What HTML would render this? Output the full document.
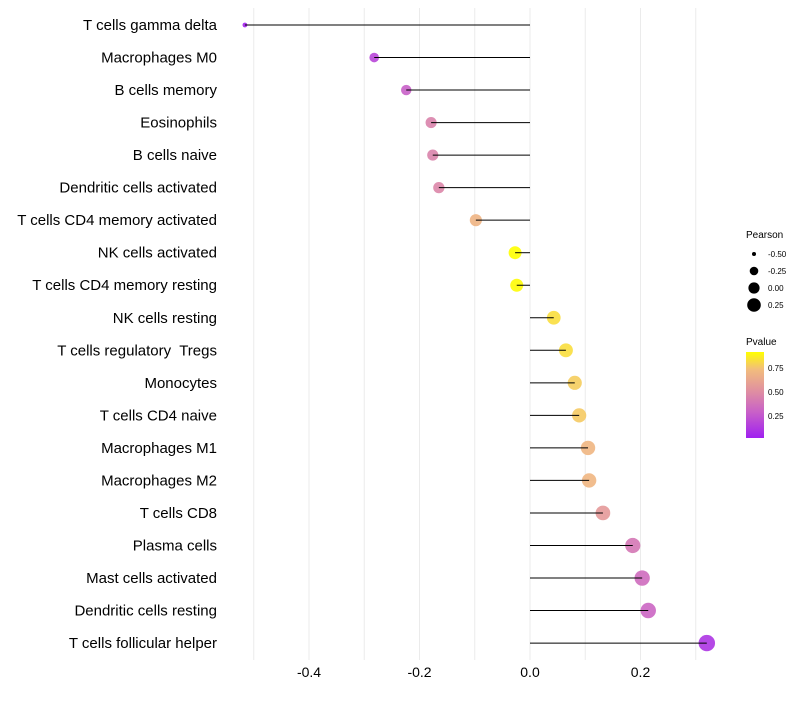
<!DOCTYPE html>
<html><head><meta charset="utf-8"><style>
body{margin:0;background:#fff;font-family:"Liberation Sans",sans-serif}
</style></head><body>
<svg id="chart" width="800" height="700" xmlns="http://www.w3.org/2000/svg" font-family="Liberation Sans, sans-serif">
<g id="grid"></g>
<g id="marks"></g>
<g id="ylab"></g>
<g id="xlab"></g>
<g>
<text x="746" y="238" font-size="10">Pearson</text>
<circle cx="754" cy="254" r="2" fill="#000"/><text x="768" y="257" font-size="8">-0.50</text>
<circle cx="754" cy="271" r="4.3" fill="#000"/><text x="768" y="274" font-size="8">-0.25</text>
<circle cx="754" cy="288" r="5.6" fill="#000"/><text x="768" y="291" font-size="8">0.00</text>
<circle cx="754" cy="305" r="6.8" fill="#000"/><text x="768" y="308" font-size="8">0.25</text>
</g>
<g>
<defs><linearGradient id="cb" x1="0" y1="1" x2="0" y2="0">
<stop offset="0" stop-color="#a020f0"/><stop offset="0.3" stop-color="#c860c8"/><stop offset="0.55" stop-color="#e090a0"/><stop offset="0.8" stop-color="#f2bd7c"/><stop offset="1" stop-color="#ffff00"/></linearGradient></defs>
<text x="746" y="345" font-size="10">Pvalue</text>
<rect x="746" y="352" width="18" height="86" fill="url(#cb)"/>
<text x="768" y="371" font-size="8">0.75</text>
<text x="768" y="395" font-size="8">0.50</text>
<text x="768" y="419" font-size="8">0.25</text>
</g>
</svg>
<script>
const categories=["T cells gamma delta","Macrophages M0","B cells memory","Eosinophils","B cells naive","Dendritic cells activated","T cells CD4 memory activated","NK cells activated","T cells CD4 memory resting","NK cells resting","T cells regulatory  Tregs","Monocytes","T cells CD4 naive","Macrophages M1","Macrophages M2","T cells CD8","Plasma cells","Mast cells activated","Dendritic cells resting","T cells follicular helper"];
const pearson=[-0.516,-0.282,-0.224,-0.179,-0.176,-0.165,-0.098,-0.027,-0.024,0.043,0.065,0.081,0.089,0.105,0.107,0.132,0.186,0.203,0.214,0.320];
const pvalues=[0.02,0.18,0.3,0.48,0.48,0.5,0.75,1.0,0.99,0.9,0.9,0.85,0.84,0.76,0.76,0.6,0.42,0.36,0.33,0.1];
const xTicks=[-0.4,-0.2,0.0,0.2];
const xGrid=[-0.5,-0.4,-0.3,-0.2,-0.1,0,0.1,0.2,0.3];
const NS="http://www.w3.org/2000/svg";
const X=v=>530+v*552.5;
const Y=i=>25+i*32.53;
const R=v=>Math.sqrt(Math.max(4,44+74*v));
function lerp(a,b,t){return a.map((x,k)=>Math.round(x+(b[k]-x)*t));}
function col(p){const s=[[0,[160,32,240]],[0.3,[200,96,200]],[0.55,[224,144,160]],[0.8,[242,189,124]],[1,[255,255,0]]];
for(let k=0;k<s.length-1;k++){if(p<=s[k+1][0]){const t=(p-s[k][0])/(s[k+1][0]-s[k][0]);const c=lerp(s[k][1],s[k+1][1],t);return `rgb(${c})`;}}return "rgb(255,255,0)";}
function mk(t,a,parent){const e=document.createElementNS(NS,t);for(const k in a)e.setAttribute(k,a[k]);parent.appendChild(e);return e;}
const grid=document.getElementById('grid'),marks=document.getElementById('marks'),ylab=document.getElementById('ylab'),xlab=document.getElementById('xlab');
xGrid.forEach(v=>{const l=mk('line',{x1:X(v),x2:X(v),y1:8,y2:660,stroke:'#ebebeb','stroke-width':1},grid);

});
xTicks.forEach(v=>{const t=mk('text',{x:X(v),y:677,'font-size':14,'text-anchor':'middle',fill:'#000'},xlab);t.textContent=v.toFixed(1);

});
categories.forEach((c,i)=>{
const y=Y(i);
const t=mk('text',{x:217,y:y+5,'font-size':15,'text-anchor':'end',fill:'#000'},ylab);t.textContent=c;


t.setAttribute('xml:space','preserve');
t.style.whiteSpace='pre';
const ci=mk('circle',{cx:X(pearson[i]),cy:y,r:R(pearson[i]),fill:col(pvalues[i]),'fill-opacity':0.9},marks);


const l=mk('line',{x1:X(0),x2:X(pearson[i]),y1:y,y2:y,stroke:'#000','stroke-width':1},marks);


});
</script>
</body></html>
